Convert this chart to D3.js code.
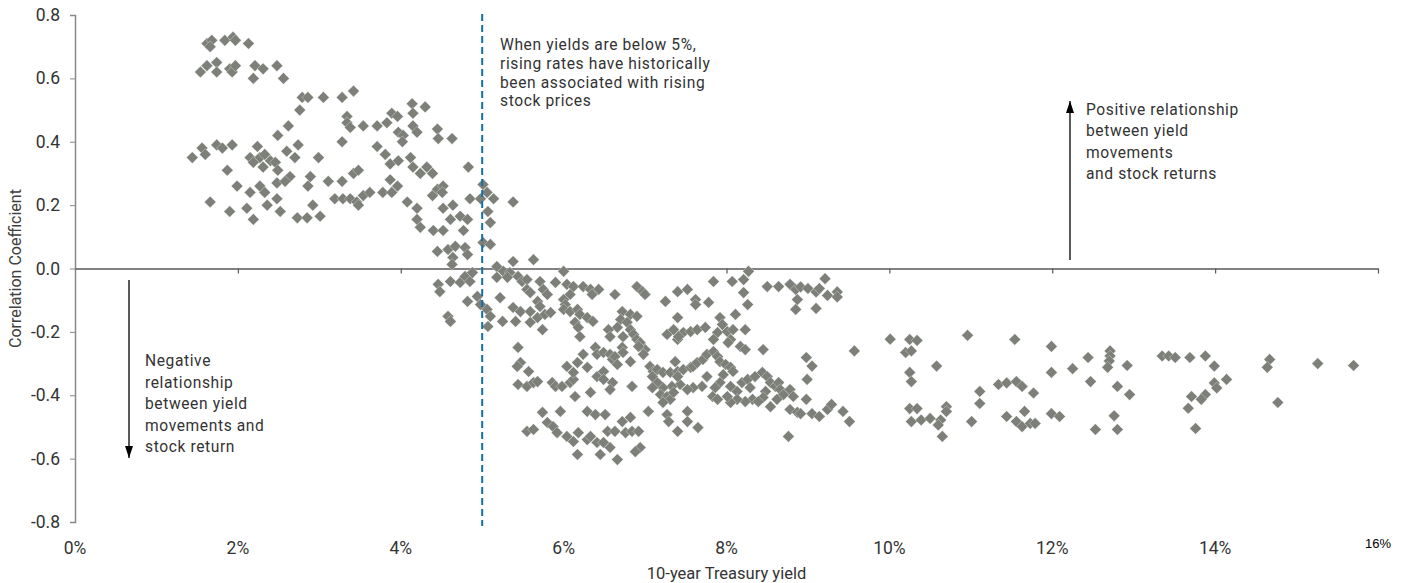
<!DOCTYPE html>
<html>
<head>
<meta charset="utf-8">
<script src="https://cdn.jsdelivr.net/npm/d3@7"></script>
<style>
  body { margin: 0; background: #fff; }
</style>
</head>
<body>
<div id="chart"></div>
<script>
// 10-year Treasury yield (%) vs. rolling correlation of yield moves and stock returns
const points = [
  [1.62,0.71],[1.68,0.72],[1.66,0.70],[1.84,0.72],[1.94,0.73],[1.97,0.72],[2.13,0.71],
  [1.54,0.62],[1.62,0.64],[1.74,0.65],[1.74,0.62],[1.90,0.63],[1.93,0.62],[1.97,0.64],[2.21,0.64],[2.31,0.63],[2.48,0.64],[2.19,0.60],[2.56,0.60],
  [2.79,0.54],[2.86,0.54],[3.05,0.54],[3.28,0.54],[3.42,0.56],[2.76,0.50],[2.62,0.45],[2.49,0.42],[2.74,0.39],[3.28,0.40],[3.34,0.48],[3.34,0.46],[3.38,0.445],[3.54,0.45],
  [3.71,0.45],[3.83,0.46],[3.89,0.49],[3.96,0.48],[3.97,0.43],[4.03,0.42],[4.02,0.40],[4.15,0.45],[4.20,0.43],[4.14,0.52],[4.15,0.49],[4.30,0.51],[4.45,0.44],[4.46,0.41],
  [1.44,0.35],[1.56,0.38],[1.60,0.36],[1.74,0.39],[1.81,0.38],[1.93,0.39],[1.87,0.31],[1.66,0.21],[1.99,0.26],[1.90,0.18],
  [2.15,0.35],[2.24,0.385],[2.27,0.35],[2.33,0.36],[2.40,0.34],[2.46,0.335],[2.19,0.335],[2.31,0.32],[2.49,0.31],
  [2.60,0.37],[2.70,0.35],[2.99,0.35],
  [2.15,0.24],[2.27,0.26],[2.33,0.24],[2.36,0.20],[2.48,0.22],[2.48,0.27],[2.64,0.29],[2.58,0.275],
  [2.11,0.19],[2.19,0.155],[2.52,0.18],[2.73,0.16],[2.85,0.16],[3.01,0.165],[2.92,0.20],
  [2.89,0.29],[2.86,0.26],[3.11,0.275],[3.28,0.275],[3.42,0.30],[3.48,0.31],
  [3.19,0.22],[3.29,0.22],[3.38,0.22],[3.46,0.21],[3.54,0.23],[3.62,0.24],[3.48,0.20],
  [3.71,0.385],[3.81,0.36],[3.87,0.33],[3.97,0.34],[4.12,0.35],[4.15,0.32],[4.24,0.30],[4.32,0.32],[4.39,0.30],[3.87,0.28],[3.96,0.26],
  [3.78,0.24],[3.89,0.24],[4.08,0.21],[4.20,0.19],[4.20,0.155],[4.24,0.13],[4.40,0.12],
  [4.39,0.23],[4.45,0.25],[4.52,0.26],[4.51,0.24],[4.52,0.19],[4.52,0.12],
  [4.63,0.41],[4.83,0.32],[5.01,0.265],[5.06,0.24],[5.14,0.22],[4.85,0.22],[4.98,0.22],[5.38,0.21],[5.07,0.18],[5.10,0.145],[4.64,0.20],[4.61,0.155],[4.73,0.165],[4.82,0.155],[4.77,0.12],
  [4.45,0.054],[4.58,0.06],[4.67,0.07],[4.79,0.066],[4.82,0.044],[4.64,0.035],[4.63,0.013],[5.01,0.082],[5.10,0.076],
  [4.46,-0.05],[4.48,-0.073],[4.61,-0.041],[4.73,-0.044],[4.79,-0.025],[4.85,-0.041],[4.88,-0.013],[4.82,-0.104],[4.94,-0.088],[4.98,-0.114],[5.06,-0.129],[5.10,-0.151],[5.07,-0.183],[4.58,-0.151],[4.61,-0.167],
  [5.18,0.006],[5.26,-0.009],[5.34,-0.013],[5.18,-0.028],[5.31,-0.028],[5.38,0.022],[5.63,0.028],
  [5.44,-0.025],[5.49,-0.041],[5.55,-0.035],[5.55,-0.066],[5.59,-0.076],[5.71,-0.041],[5.75,-0.066],[5.80,-0.082],[5.68,-0.104],[5.71,-0.12],
  [6.00,-0.009],
  [5.90,-0.044],[6.04,-0.05],[6.12,-0.057],[6.24,-0.057],[6.33,-0.066],[6.43,-0.066],[6.35,-0.082],[6.08,-0.082],[6.00,-0.098],[6.02,-0.114],
  [5.22,-0.092],
  [5.38,-0.123],[5.47,-0.136],[5.59,-0.136],[5.68,-0.155],[5.77,-0.145],[5.84,-0.139],[5.59,-0.17],[5.74,-0.193],[5.25,-0.167],[5.41,-0.167],
  [6.00,-0.129],[6.08,-0.136],[6.17,-0.129],[6.20,-0.145],[6.29,-0.155],[6.36,-0.167],[6.14,-0.17],[6.18,-0.186],[6.20,-0.215],
  [6.63,-0.082],[6.90,-0.057],[6.97,-0.073],[7.00,-0.082],
  [6.72,-0.136],[6.82,-0.145],[6.90,-0.151],[6.70,-0.161],[6.78,-0.17],[6.66,-0.186],[6.55,-0.193],[6.57,-0.215],[6.73,-0.215],[6.82,-0.193],[6.86,-0.208],[6.90,-0.224],[6.94,-0.234],[7.00,-0.256],[6.98,-0.271],[6.92,-0.246],
  [7.25,-0.104],[7.40,-0.073],[7.52,-0.066],[7.62,-0.098],[7.62,-0.114],[7.78,-0.107],[7.40,-0.155],
  [7.27,-0.208],[7.35,-0.193],[7.40,-0.224],[7.47,-0.202],[7.56,-0.199],[7.64,-0.193],[7.74,-0.186],[7.41,-0.215],
  [7.84,-0.041],
  [7.92,-0.155],[7.95,-0.177],[7.89,-0.202],[7.84,-0.224],[8.01,-0.199],[8.08,-0.193],[8.23,-0.193],[8.11,-0.145],
  [8.07,-0.041],[8.21,-0.035],[8.27,-0.009],[8.21,-0.076],[8.26,-0.114],
  [8.17,-0.246],[8.23,-0.256],[8.05,-0.224],[8.02,-0.234],
  [8.45,-0.256],
  [8.50,-0.057],[8.64,-0.057],[8.78,-0.05],[8.85,-0.066],[8.87,-0.098],[8.85,-0.129],
  [5.44,-0.249],[5.47,-0.297],[5.43,-0.309],[5.57,-0.325],[5.44,-0.366],[5.55,-0.372],[5.63,-0.36],[5.68,-0.357],
  [5.86,-0.36],[5.90,-0.372],[5.98,-0.372],[6.08,-0.36],[6.12,-0.35],[6.12,-0.328],[6.04,-0.309],[6.17,-0.297],[6.24,-0.271],[6.29,-0.312],[6.39,-0.249],[6.41,-0.271],[6.41,-0.341],[6.49,-0.325],[6.49,-0.265],[6.57,-0.271],[6.60,-0.287],[6.63,-0.278],[6.66,-0.303],[6.72,-0.249],[6.73,-0.265],[6.82,-0.294],[6.60,-0.36],[6.57,-0.382],[6.33,-0.391],[6.14,-0.404],[6.49,-0.35],[6.84,-0.372],
  [7.06,-0.309],[7.10,-0.325],[7.15,-0.319],[7.22,-0.328],[7.31,-0.328],[7.40,-0.325],[7.47,-0.319],[7.56,-0.312],[7.59,-0.309],[7.64,-0.297],[7.71,-0.287],[7.76,-0.271],[7.84,-0.262],[7.89,-0.278],[7.92,-0.294],[7.99,-0.303],[8.05,-0.312],[8.08,-0.325],[7.96,-0.335],[7.92,-0.36],[7.86,-0.376],[7.83,-0.404],[7.89,-0.413],[7.76,-0.341],[7.70,-0.372],[7.59,-0.376],[7.52,-0.382],[7.43,-0.366],[7.33,-0.372],[7.22,-0.376],[7.15,-0.36],[7.09,-0.376],[7.09,-0.341],[7.19,-0.398],[7.27,-0.404],[7.31,-0.413],[7.22,-0.423],[7.35,-0.391],[7.37,-0.294],[7.40,-0.341],
  [8.05,-0.372],[8.13,-0.388],[8.19,-0.36],[8.26,-0.35],[8.29,-0.376],[8.32,-0.413],[8.23,-0.42],[8.13,-0.413],[8.05,-0.423],[8.01,-0.404],
  [8.35,-0.341],[8.44,-0.328],[8.50,-0.341],[8.54,-0.36],[8.60,-0.372],[8.64,-0.36],[8.66,-0.382],[8.70,-0.398],[8.78,-0.382],[8.82,-0.404],[8.48,-0.388],[8.45,-0.407],[8.54,-0.436],[8.39,-0.42],[8.62,-0.413],
  [8.78,-0.445],[8.87,-0.454],[8.76,-0.53],
  [5.74,-0.454],[5.96,-0.451],[5.55,-0.514],[5.63,-0.508],[5.80,-0.486],[5.87,-0.499],[5.92,-0.518],[6.04,-0.53],[6.12,-0.546],[6.18,-0.518],[6.17,-0.587],[6.29,-0.54],[6.33,-0.53],[6.41,-0.549],[6.45,-0.587],[6.49,-0.549],[6.54,-0.514],[6.57,-0.565],[6.66,-0.603],[6.72,-0.483],[6.82,-0.47],[6.63,-0.514],[6.76,-0.518],[6.84,-0.514],[6.92,-0.514],[6.94,-0.565],[6.88,-0.578],[6.29,-0.451],[6.39,-0.461],[6.51,-0.461],[7.04,-0.451],[7.27,-0.461],[7.29,-0.483],[7.52,-0.451],[7.52,-0.483],[7.40,-0.514],[7.65,-0.502],
  [8.91,-0.058],[9.00,-0.063],[9.10,-0.074],[9.14,-0.063],[9.21,-0.032],[9.24,-0.085],[9.36,-0.074],[9.36,-0.09],[9.10,-0.126],
  [8.98,-0.281],[9.05,-0.308],[8.99,-0.35],[8.98,-0.413],[8.91,-0.458],[9.05,-0.458],[9.14,-0.467],[9.24,-0.445],[9.29,-0.429],[9.43,-0.451],[9.51,-0.483],[9.57,-0.26],
  [10.01,-0.223],[10.25,-0.224],[10.34,-0.227],[10.20,-0.265],[10.27,-0.26],[10.25,-0.328],[10.27,-0.357],[10.58,-0.308],[10.96,-0.211],[11.54,-0.224],[11.99,-0.246],[11.99,-0.328],[12.25,-0.316],[12.44,-0.281],[12.47,-0.357],[12.71,-0.26],[12.71,-0.276],[12.70,-0.292],[12.68,-0.312],[12.92,-0.306],[12.80,-0.372],[12.95,-0.398],
  [11.11,-0.388],[11.11,-0.426],[11.01,-0.483],[11.34,-0.366],[11.44,-0.361],[11.56,-0.357],[11.63,-0.372],[11.77,-0.393],
  [10.25,-0.442],[10.34,-0.442],[10.27,-0.483],[10.39,-0.478],[10.50,-0.473],[10.63,-0.478],[10.70,-0.436],[10.70,-0.451],[10.60,-0.494],[10.65,-0.53],
  [11.44,-0.467],[11.56,-0.483],[11.63,-0.499],[11.66,-0.451],[11.73,-0.489],[11.79,-0.489],[11.99,-0.458],[12.09,-0.467],[12.53,-0.508],[12.76,-0.465],[12.80,-0.508],
  [13.35,-0.276],[13.43,-0.276],[13.51,-0.281],[13.69,-0.281],[13.88,-0.276],[13.99,-0.308],[13.99,-0.361],[14.02,-0.377],[14.14,-0.35],[13.71,-0.404],[13.88,-0.398],[13.83,-0.413],[13.67,-0.441],[13.76,-0.505],
  [14.67,-0.287],[14.64,-0.312],[14.77,-0.423],[15.26,-0.30],[15.70,-0.306]
];

const xTicks = [0, 2, 4, 6, 8, 10, 12, 14, 16];
const yTicks = [-0.8, -0.6, -0.4, -0.2, 0, 0.2, 0.4, 0.6, 0.8];
const threshold = 5;

const aboveNote = ["When yields are below 5%,", "rising rates have historically", "been associated with rising", "stock prices"];
const positiveNote = ["Positive relationship", "between yield", "movements", "and stock returns"];
const negativeNote = ["Negative", "relationship", "between yield", "movements and", "stock return"];

const width = 1408, height = 583;
const font = "Roboto, 'Open Sans', sans-serif";

const svg = d3.select("#chart")
  .append("svg")
  .attr("width", width)
  .attr("height", height);

const x = d3.scaleLinear([0, 16], [75, 1378]);
const y = d3.scaleLinear([-0.8, 0.8], [522, 15]);

svg.append("defs")
  .append("marker")
  .attr("id", "head")
  .attr("viewBox", "0 0 12 8")
  .attr("refX", 12).attr("refY", 4)
  .attr("markerWidth", 12).attr("markerHeight", 8)
  .attr("markerUnits", "userSpaceOnUse")
  .attr("orient", "auto")
  .append("path")
  .attr("d", "M0,0L12,4L0,8Z")
  .attr("fill", "#000");

// y axis
svg.append("g")
  .attr("transform", `translate(${x(0)},0)`)
  .call(d3.axisLeft(y).tickValues(yTicks).tickSize(5).tickPadding(10).tickFormat(d => d.toFixed(1)))
  .call(g => {
    g.select(".domain").attr("stroke", "#888").attr("stroke-width", 1.5);
    g.selectAll(".tick line").attr("stroke", "#888");
    g.selectAll(".tick text")
      .attr("fill", "#333")
      .style("font", `17.5px ${font}`);
  });

// zero line with ticks
svg.append("g")
  .attr("transform", `translate(0,${y(0)})`)
  .call(d3.axisBottom(x).tickValues(xTicks.slice(1)).tickSize(5).tickSizeOuter(0).tickFormat(""))
  .call(g => {
    g.select(".domain").attr("stroke", "#595959").attr("stroke-width", 1.5);
    g.selectAll(".tick line").attr("stroke", "#595959").attr("stroke-width", 1.2);
  });

// x tick labels at the bottom
svg.append("g")
  .selectAll("text")
  .data(xTicks)
  .join("text")
  .attr("x", d => x(d))
  .attr("y", d => d === 16 ? 548 : 554)
  .attr("text-anchor", "middle")
  .attr("fill", d => d === 16 ? "#000" : "#333")
  .style("font", d => d === 16 ? "13px 'Liberation Sans', Arial, sans-serif" : `17.5px ${font}`)
  .text(d => d + "%");

svg.append("text")
  .attr("x", (x.range()[0] + x.range()[1]) / 2)
  .attr("y", 579)
  .attr("text-anchor", "middle")
  .attr("fill", "#333")
  .style("font", `16.5px ${font}`)
  .text("10-year Treasury yield");

svg.append("text")
  .attr("transform", `translate(21,${y(0)}) rotate(-90)`)
  .attr("text-anchor", "middle")
  .attr("fill", "#404040")
  .style("font", `16px ${font}`)
  .text("Correlation Coefficient");

// points
svg.append("g")
  .selectAll("path")
  .data(points)
  .join("path")
  .attr("transform", d => `translate(${x(d[0])},${y(d[1])}) rotate(45)`)
  .attr("d", d3.symbol(d3.symbolSquare, 68))
  .attr("fill", "#7d8078")
  .attr("stroke", "#fff")
  .attr("stroke-width", 0.3);

// 5% threshold
svg.append("line")
  .attr("x1", x(threshold)).attr("x2", x(threshold))
  .attr("y1", 14).attr("y2", 526)
  .attr("stroke", "#1170a8")
  .attr("stroke-width", 2)
  .attr("stroke-dasharray", "7,4");

function note(lines, x0, y0, step) {
  svg.append("text")
    .attr("fill", "#333")
    .attr("letter-spacing", "0.6px")
    .style("font", `15.6px ${font}`)
    .selectAll("tspan")
    .data(lines)
    .join("tspan")
    .attr("x", x0)
    .attr("y", (d, i) => y0 + i * step)
    .text(d => d);
}

note(aboveNote, 500, 50, 18.8);
note(positiveNote, 1086, 115, 21.3);
note(negativeNote, 145, 366, 21.5);

// arrows
svg.append("line")
  .attr("x1", 1070).attr("x2", 1070)
  .attr("y1", 260).attr("y2", 101)
  .attr("stroke", "#000").attr("stroke-width", 1.3)
  .attr("marker-end", "url(#head)");

svg.append("line")
  .attr("x1", 129).attr("x2", 129)
  .attr("y1", 280).attr("y2", 458)
  .attr("stroke", "#000").attr("stroke-width", 1.3)
  .attr("marker-end", "url(#head)");
</script>
</body>
</html>
